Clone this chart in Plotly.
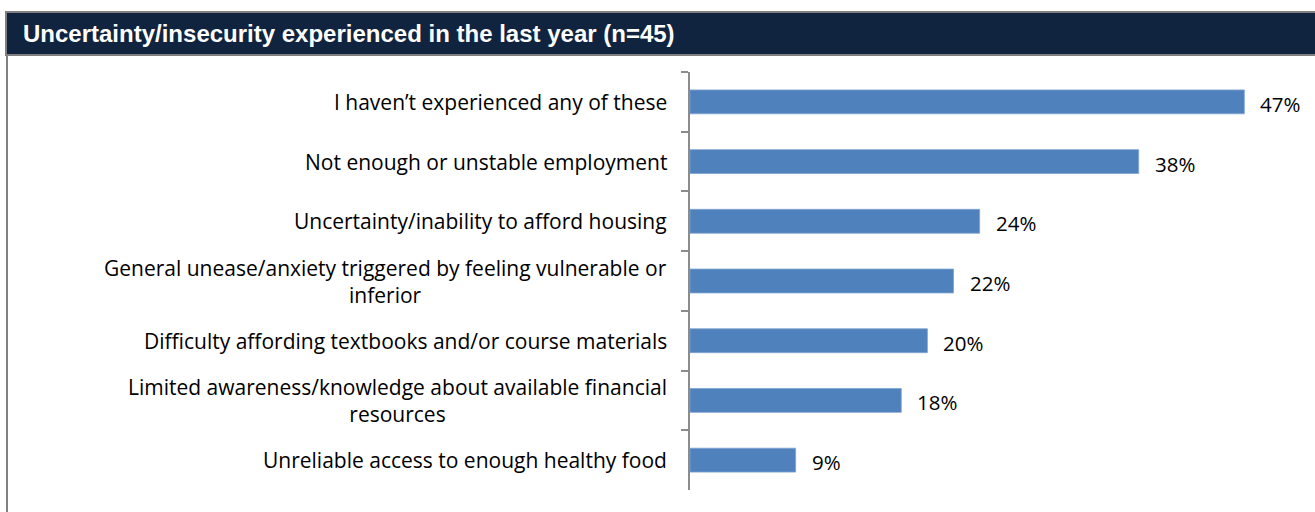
import plotly.graph_objects as go

categories = [
    "I haven\u2019t experienced any of these",
    "Not enough or unstable employment",
    "Uncertainty/inability to afford housing",
    "General unease/anxiety triggered by feeling vulnerable or<br>inferior",
    "Difficulty affording textbooks and/or course materials",
    "Limited awareness/knowledge about available financial<br>resources",
    "Unreliable access to enough healthy food",
]
values = [46.7, 37.8, 24.4, 22.2, 20.0, 17.8, 8.9]
title_text = "Uncertainty/insecurity experienced in the last year (n=45)"

W, H = 1315, 512
ML, MR, MT, MB = 690, 15, 72, 22
PW = W - ML - MR
PH = H - MT - MB

def px_x(px):
    return (px - ML) / PW

def px_y(py):
    return 1 - (py - MT) / PH

label_font = dict(family="Open Sans, Lato, sans-serif", size=21, color="#000000")
value_font = dict(family="Open Sans, Lato, sans-serif", size=20.5, color="#000000")

fig = go.Figure(go.Bar(
    x=values, y=categories, orientation="h",
    marker=dict(color="#4F81BD", line=dict(color="#7FA3D0", width=0.8)),
    hoverinfo="skip",
))

annotations = []
for c, v in zip(categories, values):
    annotations.append(dict(
        x=0, xref="paper", y=c, yref="y", text=c, showarrow=False,
        xanchor="right", yanchor="middle", xshift=-21, align="center",
        font=label_font,
    ))
    annotations.append(dict(
        x=v, xref="x", y=c, yref="y", text=f"{v:.0f}%", showarrow=False,
        xanchor="left", yanchor="middle", xshift=14, yshift=-2,
        font=value_font,
    ))

annotations.append(dict(
    x=px_x(21), xref="paper", y=px_y(33), yref="paper", text=f"<b>{title_text}</b>",
    showarrow=False, xanchor="left", yanchor="middle",
    font=dict(family="Arial, Liberation Sans, sans-serif", size=24, color="#FFFFFF"),
))

shapes = [
    # header band
    dict(type="rect", xref="paper", yref="paper",
         x0=px_x(6), x1=px_x(1320), y0=px_y(55), y1=px_y(12),
         fillcolor="#10243F", line=dict(color="#808080", width=2), layer="below"),
    # left frame border
    dict(type="line", xref="paper", yref="paper",
         x0=px_x(7), x1=px_x(7), y0=px_y(55), y1=px_y(515),
         line=dict(color="#808080", width=2)),
]

fig.update_layout(
    width=W, height=H,
    margin=dict(l=ML, r=MR, t=MT, b=MB),
    paper_bgcolor="white", plot_bgcolor="white",
    showlegend=False, bargap=0.6,
    xaxis=dict(range=[0, PW / 11.87], visible=False, fixedrange=True),
    yaxis=dict(
        autorange="reversed", showticklabels=False,
        showline=True, linecolor="#8C8C8C", linewidth=1.5,
        ticks="outside", tickson="boundaries", ticklen=7, tickcolor="#8C8C8C", tickwidth=1.5,
        showgrid=False, zeroline=False,
    ),
    annotations=annotations, shapes=shapes,
)

fig.write_html("out.html", config={"displayModeBar": False},
               post_script="document.body.style.margin='0';document.body.style.overflow='hidden';")
